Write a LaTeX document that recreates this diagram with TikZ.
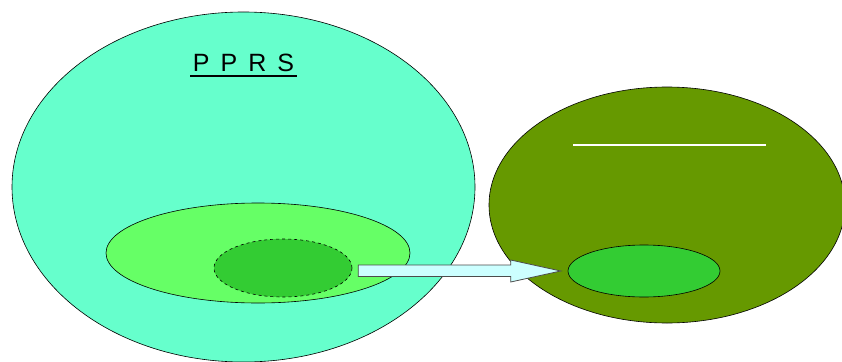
\documentclass[tikz,border=0pt]{standalone}
\usepackage{fontspec}
\setmainfont{Liberation Sans}
\usetikzlibrary{shapes.geometric,calc}
\definecolor{aqua}{HTML}{66FFCC}
\definecolor{lgreen}{HTML}{66FF66}
\definecolor{mgreen}{HTML}{33CC33}
\definecolor{olive}{HTML}{669900}
\definecolor{lcyan}{HTML}{CCFFFF}
\tikzset{
  blob/.style={ellipse, draw=black, line width=0.6pt, inner sep=0pt},
  bigarrow/.style={draw=black!70, fill=lcyan, line width=0.8pt}
}
\begin{document}
\begin{tikzpicture}[x=1pt,y=-1pt]
\clip (0,0) rectangle (842,361);
\fill[white] (0,0) rectangle (842,361);
\node[blob, fill=aqua, minimum width=463pt, minimum height=350pt] (pprs) at (243.5,187) {};
\node[blob, fill=lgreen, minimum width=304pt, minimum height=100pt] (mid) at (258,253) {};
\node[blob, fill=mgreen, dashed, minimum width=138pt, minimum height=58pt] (core) at (283,268) {};
\node[blob, fill=olive, minimum width=356pt, minimum height=236pt] (right) at (667,205) {};
\node[blob, fill=mgreen, minimum width=152pt, minimum height=52pt] (target) at (644,271) {};
\node[anchor=base, font=\fontsize{25}{25}\selectfont, inner sep=0pt] (title) at (243.5,71) {P\hspace{11pt}P\hspace{11pt}R\hspace{11pt}S};
\draw[line width=2pt] (190,76) -- (297,76);
\draw[white, line width=2pt] (573,145) -- (766,145);
\coordinate (as) at ($(core.east)+(6,3)$);
\coordinate (at) at ($(target.west)+(-7,0)$);
\draw[bigarrow] (as) ++(0,-6) -- ($(at)+(-50,-6)$) -- ($(at)+(-50,-11)$) -- (at) -- ($(at)+(-50,11)$) -- ($(at)+(-50,5.5)$) -- ($(as)+(0,5.5)$) -- cycle;
\end{tikzpicture}
\end{document}
